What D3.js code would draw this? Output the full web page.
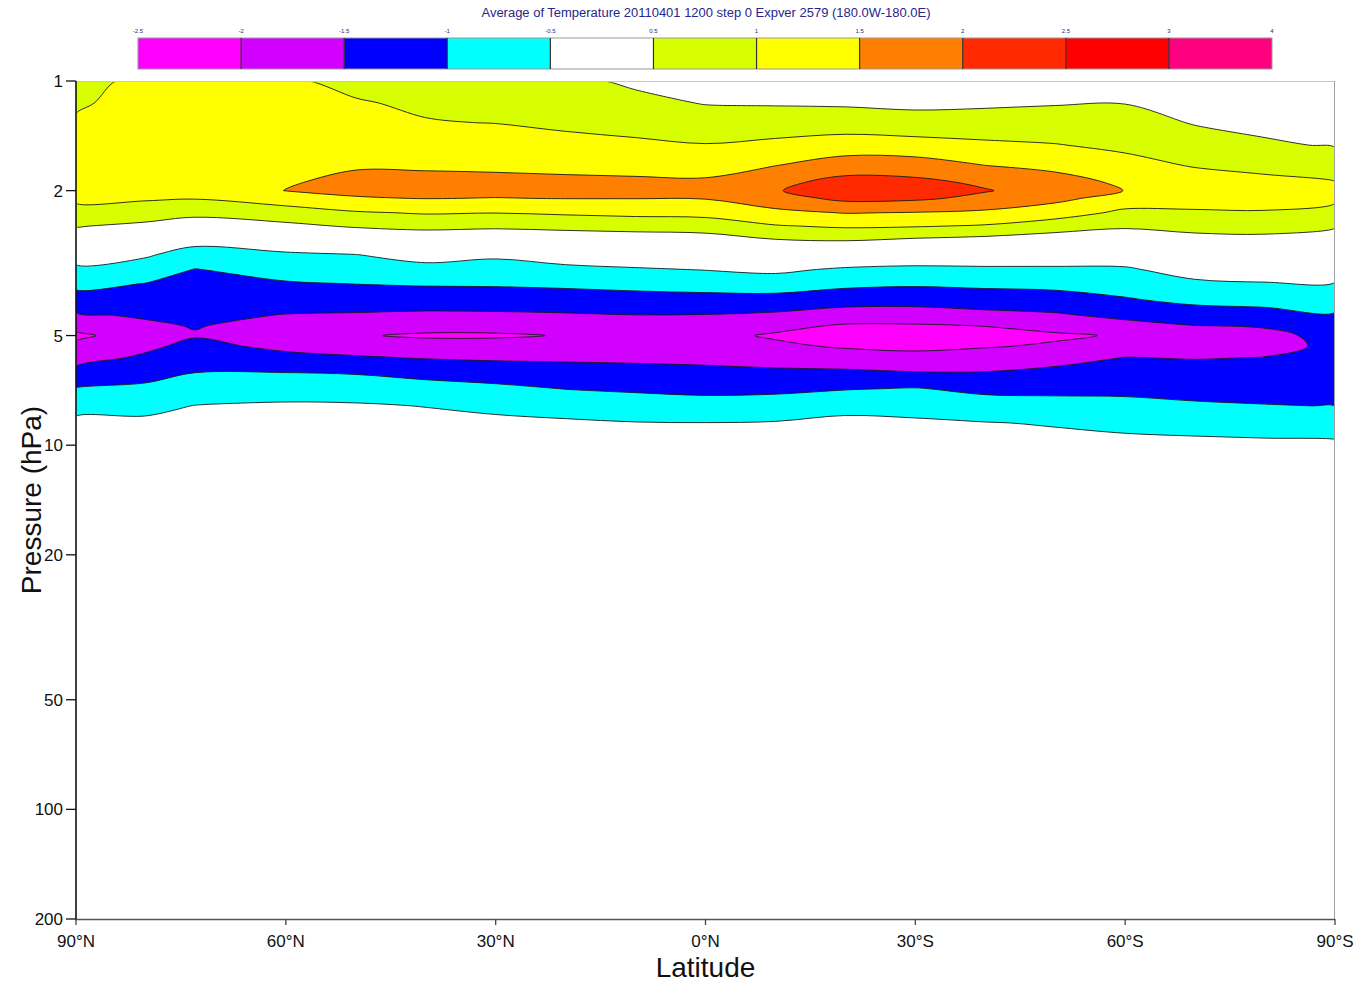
<!DOCTYPE html>
<html><head><meta charset="utf-8">
<script src="https://cdn.jsdelivr.net/npm/d3@7"></script>
<style>body{margin:0;background:#fff} svg{display:block} text{font-family:"Liberation Sans",Arial,Helvetica,sans-serif}</style>
</head><body>
<svg id="chart" width="1363" height="985"></svg>
<script>
// ---- data ----
const latitudes = [90, 80, 73, 60, 50, 40, 30, 20, 10, 0, -10, -20, -30, -40, -50, -60, -70, -80, -90];
const pressureLevels = [1.0, 1.15, 1.3, 1.5, 1.7, 1.9, 2.0, 2.1, 2.3, 2.5, 2.75, 3.0, 3.3, 3.6, 4.0, 4.4, 4.7, 5.0, 5.35, 5.75, 6.3, 7.0, 7.8, 8.7, 9.7, 12, 20, 50, 200];
// temperature profile per latitude, values at pressureLevels (top to bottom)
const t90N = [0.80, 0.93, 1.06, 1.20, 1.27, 1.16, 1.11, 1.06, 0.88, 0.53, 0.11, -0.27, -0.63, -0.88, -1.22, -1.57, -1.88, -2.10, -1.91, -1.69, -1.38, -0.98, -0.63, -0.42, -0.28, -0.15, -0.05, 0, 0];
const t80N = [1.15, 1.20, 1.25, 1.30, 1.35, 1.19, 1.12, 1.05, 0.76, 0.39, -0.04, -0.44, -0.75, -1.01, -1.23, -1.44, -1.59, -1.75, -1.60, -1.42, -1.18, -0.90, -0.61, -0.42, -0.28, -0.15, -0.05, 0, 0];
const t73N = [1.20, 1.25, 1.29, 1.34, 1.39, 1.23, 1.13, 1.02, 0.65, 0.21, -0.35, -0.72, -1.02, -1.13, -1.27, -1.39, -1.47, -1.54, -1.36, -1.20, -1.01, -0.74, -0.49, -0.38, -0.27, -0.15, -0.05, 0, 0];
const t60N = [1.05, 1.15, 1.23, 1.33, 1.41, 1.46, 1.51, 1.22, 0.80, 0.39, -0.17, -0.58, -0.82, -1.04, -1.29, -1.52, -1.69, -1.85, -1.62, -1.36, -1.01, -0.67, -0.45, -0.36, -0.27, -0.15, -0.05, 0, 0];
const t50N = [0.90, 1.03, 1.16, 1.32, 1.45, 1.62, 1.58, 1.47, 0.95, 0.56, 0.00, -0.51, -0.76, -0.99, -1.28, -1.55, -1.76, -1.97, -1.73, -1.45, -1.05, -0.69, -0.46, -0.37, -0.28, -0.15, -0.05, 0, 0];
const t40N = [0.85, 0.94, 1.02, 1.24, 1.43, 1.64, 1.62, 1.51, 1.04, 0.63, 0.15, -0.30, -0.68, -0.95, -1.28, -1.59, -1.86, -2.05, -1.83, -1.53, -1.16, -0.81, -0.51, -0.39, -0.28, -0.15, -0.05, 0, 0];
const t30N = [0.80, 0.90, 0.99, 1.21, 1.42, 1.61, 1.59, 1.49, 1.01, 0.60, 0.07, -0.42, -0.71, -0.94, -1.27, -1.58, -1.85, -2.05, -1.83, -1.57, -1.25, -0.89, -0.58, -0.42, -0.31, -0.17, -0.05, 0, 0];
const t20N = [0.60, 0.77, 0.91, 1.14, 1.39, 1.59, 1.58, 1.51, 1.07, 0.64, 0.17, -0.25, -0.63, -0.90, -1.24, -1.55, -1.77, -1.98, -1.79, -1.58, -1.31, -1.01, -0.67, -0.44, -0.32, -0.17, -0.05, 0, 0];
const t10N = [0.42, 0.62, 0.82, 1.09, 1.37, 1.57, 1.57, 1.51, 1.13, 0.68, 0.22, -0.16, -0.56, -0.85, -1.19, -1.51, -1.70, -1.89, -1.76, -1.59, -1.36, -1.07, -0.76, -0.48, -0.35, -0.20, -0.05, 0, 0];
const t0 = [0.30, 0.48, 0.72, 1.02, 1.34, 1.56, 1.58, 1.52, 1.16, 0.72, 0.26, -0.10, -0.49, -0.80, -1.17, -1.52, -1.71, -1.88, -1.77, -1.61, -1.40, -1.12, -0.81, -0.49, -0.38, -0.20, -0.05, 0, 0];
const t10S = [0.25, 0.46, 0.74, 1.11, 1.48, 1.88, 1.97, 1.80, 1.38, 0.97, 0.44, 0.04, -0.41, -0.75, -1.18, -1.59, -1.88, -2.05, -1.92, -1.70, -1.42, -1.11, -0.76, -0.47, -0.35, -0.20, -0.05, 0, 0];
const t20S = [0.25, 0.44, 0.75, 1.23, 1.73, 2.17, 2.24, 2.12, 1.52, 1.07, 0.49, -0.05, -0.58, -0.88, -1.30, -1.74, -2.05, -2.25, -2.05, -1.78, -1.43, -1.03, -0.60, -0.42, -0.31, -0.17, -0.05, 0, 0];
const t30S = [0.20, 0.40, 0.68, 1.19, 1.71, 2.12, 2.20, 2.08, 1.48, 1.04, 0.38, -0.15, -0.63, -0.93, -1.32, -1.74, -2.05, -2.23, -2.10, -1.86, -1.49, -0.97, -0.64, -0.44, -0.34, -0.20, -0.05, 0, 0];
const t40S = [0.25, 0.43, 0.69, 1.09, 1.49, 1.92, 2.03, 1.88, 1.41, 0.96, 0.30, -0.16, -0.60, -0.89, -1.26, -1.64, -1.99, -2.14, -2.03, -1.81, -1.49, -1.12, -0.77, -0.48, -0.37, -0.20, -0.05, 0, 0];
const t50S = [0.30, 0.47, 0.71, 1.02, 1.37, 1.69, 1.79, 1.62, 1.24, 0.73, 0.21, -0.20, -0.59, -0.86, -1.21, -1.56, -1.86, -2.06, -1.95, -1.67, -1.39, -1.12, -0.83, -0.53, -0.40, -0.20, -0.05, 0, 0];
const t60S = [0.35, 0.49, 0.68, 0.90, 1.15, 1.42, 1.49, 1.30, 0.89, 0.57, 0.17, -0.22, -0.57, -0.78, -1.05, -1.39, -1.65, -1.96, -1.76, -1.49, -1.32, -1.11, -0.87, -0.60, -0.43, -0.25, -0.05, 0, 0];
const t70S = [0.30, 0.39, 0.47, 0.71, 0.96, 1.23, 1.35, 1.20, 0.94, 0.65, 0.33, 0.03, -0.30, -0.59, -0.89, -1.24, -1.51, -1.66, -1.69, -1.52, -1.35, -1.15, -0.94, -0.65, -0.45, -0.26, -0.05, 0, 0];
const t80S = [0.20, 0.31, 0.40, 0.55, 0.85, 1.13, 1.28, 1.20, 0.96, 0.68, 0.35, 0.07, -0.25, -0.53, -0.84, -1.18, -1.47, -1.59, -1.61, -1.49, -1.34, -1.17, -0.98, -0.70, -0.47, -0.27, -0.05, 0, 0];
const t90S = [0.20, 0.29, 0.37, 0.47, 0.71, 1.02, 1.22, 1.10, 0.81, 0.54, 0.26, 0.00, -0.27, -0.53, -0.81, -1.05, -1.21, -1.40, -1.43, -1.35, -1.22, -1.11, -1.01, -0.74, -0.49, -0.29, -0.05, 0, 0];
const profiles = [t90N, t80N, t73N, t60N, t50N, t40N, t30N, t20N, t10N, t0, t10S, t20S, t30S, t40S, t50S, t60S, t70S, t80S, t90S];

const contourLevels = [-2.5, -2, -1.5, -1, -0.5, 0.5, 1, 1.5, 2, 2.5, 3, 4];
const legendLabels = ["-2.5", "-2", "-1.5", "-1", "-0.5", "0.5", "1", "1.5", "2", "2.5", "3", "4"];
const bandColors = ["#ff00ff", "#d200ff", "#0000ff", "#00ffff", "#ffffff", "#d8ff00", "#ffff00", "#ff8000", "#ff2a00", "#ff0000", "#ff0080"];
const pressureTicks = [1, 2, 5, 10, 20, 50, 100, 200];
const latTicks = [90, 60, 30, 0, -30, -60, -90];
const titleText = "Average of Temperature 20110401 1200 step 0 Expver 2579 (180.0W-180.0E)";

// ---- layout ----
const svg = d3.select("#chart");
const L = 76, R = 1335, T = 81, B = 919;
const x = d3.scaleLinear().domain([90, -90]).range([L, R]);
const y = d3.scaleLog().domain([1, 200]).range([T, B]);

const nx = latitudes.length, ny = pressureLevels.length;
const values = new Array(nx * ny);
for (let j = 0; j < ny; j++) for (let i = 0; i < nx; i++) values[j * nx + i] = profiles[i][j];

const contours = d3.contours().size([nx, ny]).thresholds(contourLevels)(values);

function mapPt(p) {
  const fx = Math.max(0, Math.min(nx - 1, p[0] - 0.5));
  const i0 = Math.min(nx - 2, Math.floor(fx)), tx = fx - i0;
  const lat = latitudes[i0] + (latitudes[i0 + 1] - latitudes[i0]) * tx;
  const fy = Math.max(0, Math.min(ny - 1, p[1] - 0.5));
  const j0 = Math.min(ny - 2, Math.floor(fy)), ty = fy - j0;
  const y0 = y(pressureLevels[j0]), y1 = y(pressureLevels[j0 + 1]);
  return [x(lat), y0 + (y1 - y0) * ty];
}
const ringLine = d3.line().curve(d3.curveCatmullRomClosed.alpha(0.5));
function pathOf(c) {
  let d = "";
  c.coordinates.forEach(poly => poly.forEach(ring => {
    const pts = [];
    ring.forEach(pt => {
      const q = mapPt(pt);
      const last = pts[pts.length - 1];
      if (!last || Math.abs(last[0] - q[0]) > 0.05 || Math.abs(last[1] - q[1]) > 0.05) pts.push(q);
    });
    if (pts.length > 1) {
      const a = pts[0], b = pts[pts.length - 1];
      if (Math.abs(a[0] - b[0]) < 0.05 && Math.abs(a[1] - b[1]) < 0.05) pts.pop();
    }
    if (pts.length > 2) d += ringLine(pts);
  }));
  return d;
}

const defs = svg.append("defs");
defs.append("clipPath").attr("id", "plotclip").append("rect").attr("x", L).attr("y", T).attr("width", R - L).attr("height", B - T);
defs.append("clipPath").attr("id", "lineclip").append("rect").attr("x", L + 1.2).attr("y", T + 1.2).attr("width", R - L - 2.4).attr("height", B - T - 2.4);

const gFill = svg.append("g").attr("clip-path", "url(#plotclip)");
gFill.append("rect").attr("x", L).attr("y", T).attr("width", R - L).attr("height", B - T).attr("fill", bandColors[0]);
contours.forEach((c, k) => {
  if (!c.coordinates.length) return;
  gFill.append("path").attr("d", pathOf(c)).attr("fill", bandColors[Math.min(k, bandColors.length - 1)]).attr("fill-rule", "evenodd");
});
const gLine = svg.append("g").attr("clip-path", "url(#lineclip)");
contours.forEach((c) => {
  if (!c.coordinates.length) return;
  gLine.append("path").attr("d", pathOf(c)).attr("fill", "none").attr("stroke", "#1a1a1a").attr("stroke-width", 0.9).attr("stroke-linejoin", "round");
});

// frame
svg.append("line").attr("x1", L).attr("x2", R).attr("y1", T + 0.5).attr("y2", T + 0.5).attr("stroke", "#c8c8c8").attr("stroke-width", 1);
svg.append("line").attr("x1", R - 0.5).attr("x2", R - 0.5).attr("y1", T).attr("y2", B).attr("stroke", "#a0a0a0").attr("stroke-width", 1);

// y axis
const yAxis = svg.append("g");
yAxis.append("line").attr("x1", L).attr("x2", L).attr("y1", T).attr("y2", B + 1).attr("stroke", "#111").attr("stroke-width", 1.6);
pressureTicks.forEach(p => {
  yAxis.append("line").attr("x1", L - 10).attr("x2", L).attr("y1", y(p)).attr("y2", y(p)).attr("stroke", "#111").attr("stroke-width", 1.3);
  yAxis.append("text").attr("x", L - 13).attr("y", y(p)).attr("dy", "0.36em").attr("text-anchor", "end")
    .attr("font-size", 17).attr("fill", "#111").text(p);
});
// x axis
const xAxis = svg.append("g");
xAxis.append("line").attr("x1", L).attr("x2", R).attr("y1", B + 0.5).attr("y2", B + 0.5).attr("stroke", "#555").attr("stroke-width", 1.6);
const latFmt = d => d > 0 ? d + "°N" : (d < 0 ? (-d) + "°S" : "0°N");
latTicks.forEach(d => {
  xAxis.append("line").attr("x1", x(d)).attr("x2", x(d)).attr("y1", B).attr("y2", B + 6).attr("stroke", "#444").attr("stroke-width", 1.3);
  xAxis.append("text").attr("x", x(d)).attr("y", B + 28).attr("text-anchor", "middle")
    .attr("font-size", 17).attr("fill", "#111").text(latFmt(d));
});
svg.append("text").attr("x", (L + R) / 2).attr("y", 977).attr("text-anchor", "middle").attr("font-size", 28).attr("fill", "#111").text("Latitude");
svg.append("text").attr("transform", "translate(41,500) rotate(-90)").attr("text-anchor", "middle").attr("font-size", 28).attr("fill", "#111").text("Pressure (hPa)");

// title
svg.append("text").attr("x", 706).attr("y", 17).attr("text-anchor", "middle").attr("font-size", 12)
  .attr("fill", "#26268c").attr("textLength", 449).attr("lengthAdjust", "spacingAndGlyphs").text(titleText);

// colour bar
const cbX0 = 138, cbX1 = 1272, cbY = 38, cbH = 31;
const cb = d3.scaleLinear().domain([0, bandColors.length]).range([cbX0, cbX1]);
const gCb = svg.append("g");
bandColors.forEach((col, k) => {
  gCb.append("rect").attr("x", cb(k)).attr("y", cbY).attr("width", cb(k + 1) - cb(k)).attr("height", cbH).attr("fill", col);
});
gCb.append("rect").attr("x", cbX0).attr("y", cbY).attr("width", cbX1 - cbX0).attr("height", cbH).attr("fill", "none").attr("stroke", "#999").attr("stroke-width", 1);
d3.range(1, bandColors.length).forEach(k => {
  gCb.append("line").attr("x1", cb(k)).attr("x2", cb(k)).attr("y1", cbY).attr("y2", cbY + cbH).attr("stroke", "#333").attr("stroke-width", 1.2);
});
legendLabels.forEach((lab, k) => {
  gCb.append("text").attr("x", cb(k)).attr("y", 33).attr("text-anchor", "middle").attr("font-size", 6).attr("fill", "#26268c").text(lab);
});
</script>
</body></html>
